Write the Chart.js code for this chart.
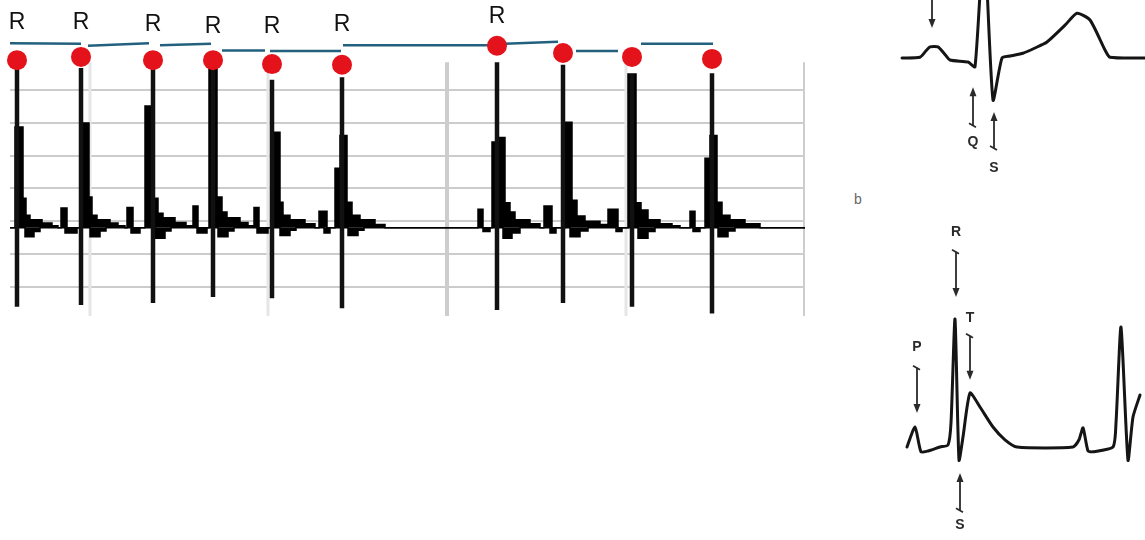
<!DOCTYPE html>
<html>
<head>
<meta charset="utf-8">
<script src="https://cdn.jsdelivr.net/npm/chart.js@4.4.0/dist/chart.umd.min.js"></script>
<style>
  html, body { margin: 0; padding: 0; background: #fff; }
  #wrap { position: relative; width: 1145px; height: 540px; overflow: hidden; }
  canvas { position: absolute; }
  #tag { position: absolute; left: 854px; top: 191px; font: 14px "Liberation Sans", Arial, sans-serif; color: #666; }
</style>
</head>
<body>
<div id="wrap">
  <canvas id="strip" width="830" height="330" style="left:0;top:0"></canvas>
  <canvas id="waveA" width="255" height="190" style="left:890px;top:0"></canvas>
  <div id="tag">b</div>
  <canvas id="waveB" width="255" height="330" style="left:890px;top:210px"></canvas>
</div>
<script>
// tira de ECG: tempo em amostras, amplitude em mV
const baseline = -0.1;
const rPeakTimes = [17, 81, 153, 213, 272, 342, 497, 563, 632, 712];
const rPeakTops = [2.34, 2.34, 2.34, 2.42, 2.16, 2.2, 2.43, 2.39, 2.25, 2.26];
const sTroughs = [-1.31, -1.28, -1.25, -1.16, -1.18, -1.33, -1.36, -1.25, -1.31, -1.41];
const rDotLevels = [2.46, 2.51, 2.46, 2.46, 2.40, 2.39, 2.68, 2.57, 2.51, 2.48];
const rLabelLevels = [3.04, 3.04, 3.01, 2.98, 2.97, 3.01, 3.13];

// intervalos RR (linhas azuis)
const rrStarts = [10, 88, 160, 222, 270, 343, 505, 576, 641];
const rrEnds = [81, 149, 211, 265, 341, 497, 558, 618, 713];
const rrStartLevels = [2.72, 2.68, 2.69, 2.61, 2.60, 2.69, 2.71, 2.60, 2.71];
const rrEndLevels = [2.71, 2.72, 2.71, 2.61, 2.60, 2.69, 2.74, 2.60, 2.71];

// envelope acima da linha de base [t, mV] (cada valor vale até o próximo t)
const upperTrace = [
  [10,-0.1],[15,1.44],[23,0.35],[26,0.09],[30,0.02],[42,-0.03],[52,-0.07],[58,-0.1],[61,0.2],[67,-0.1],
  [81,1.5],[89,0.37],[92,0.09],[97,0.02],[110,-0.03],[118,-0.07],[125,-0.1],[127,0.21],[133,-0.1],
  [145,1.76],[154,0.35],[158,0.12],[163,0.05],[175,-0.02],[186,-0.07],[193,0.23],[198,-0.1],
  [209,2.34],[217,0.37],[222,0.14],[227,0.05],[240,-0.02],[248,-0.07],[254,0.21],[259,-0.1],
  [273,1.36],[280,0.29],[283,0.09],[290,0.02],[305,-0.04],[315,-0.1],[319,0.15],[327,-0.1],
  [335,0.81],[340,1.31],[347,0.29],[352,0.09],[360,0.02],[375,-0.05],[385,-0.1],
  [478,0.18],[483,-0.1],
  [492,1.21],[497,1.28],[505,0.28],[510,0.14],[515,0.02],[530,-0.04],[540,-0.1],[544,0.23],[552,-0.1],
  [565,1.51],[572,0.32],[577,0.08],[585,0.0],[600,-0.05],[608,0.18],[618,-0.1],
  [628,2.25],[636,0.28],[641,0.17],[648,0.02],[660,-0.04],[672,-0.07],[680,-0.1],[690,0.15],[695,-0.1],
  [705,0.96],[710,1.31],[717,0.29],[722,0.09],[730,0.02],[745,-0.04],[760,-0.1],[805,-0.1]
];
// envelope abaixo da linha de base [t, mV]
const lowerTrace = [
  [10,-0.1],[25,-0.24],[34,-0.16],[40,-0.1],[65,-0.18],[77,-0.1],
  [90,-0.24],[100,-0.15],[106,-0.1],[131,-0.18],[140,-0.1],
  [155,-0.26],[165,-0.15],[171,-0.1],[197,-0.18],[207,-0.1],
  [218,-0.24],[228,-0.15],[234,-0.1],[257,-0.18],[268,-0.1],
  [280,-0.22],[290,-0.14],[296,-0.1],[324,-0.18],[330,-0.1],
  [348,-0.22],[358,-0.14],[364,-0.1],
  [483,-0.16],[490,-0.1],[503,-0.26],[512,-0.18],[520,-0.1],[550,-0.18],[556,-0.1],
  [570,-0.24],[580,-0.15],[588,-0.1],[616,-0.16],[622,-0.1],
  [638,-0.26],[648,-0.16],[655,-0.1],[693,-0.16],[700,-0.1],
  [718,-0.24],[728,-0.15],[735,-0.1],[805,-0.1]
];
// grade do papel
const gridLevels = [-1, -0.5, 0, 0.5, 1, 1.5, 2];
const gridTimes = [90, 268, 447, 626, 805];
const strongGridTimes = [447, 805];
const gridTop = 2.43;
const gridBottom = -1.45;

// diagrama a (topo direito)
const waveATimes = [12, 30, 36, 40, 48, 54, 60, 78, 85, 94, 103, 112, 120, 133, 145, 157, 175, 187, 200, 215, 220, 255];
const waveAValues = [0, 0.02, 0.18, 0.28, 0.28, 0.12, -0.05, -0.1, -0.22, 3.0, -1.05, 0, 0.05, 0.12, 0.25, 0.4, 0.82, 1.12, 0.95, 0.2, 0.02, 0];
const waveANoteTimes = [42, 83, 104];
const waveANoteTails = [1.6, -1.68, -2.25];
const waveANoteHeads = [0.75, -0.73, -1.35];
const waveANoteLabels = ["", "Q", "S"];
const waveANoteLevels = [0, -2.1, -2.75];

// diagrama b (baixo direito)
const waveBTimes = [17, 25, 31, 38, 50, 58, 61, 65, 69, 73, 80, 90, 103, 115, 127, 183, 189, 193, 198, 203, 223, 226, 231, 238, 243, 250];
const waveBValues = [0, 0.5, -0.12, -0.1, 0, 0.05, 0.6, 3.2, -0.33, 0.25, 1.35, 1.0, 0.5, 0.18, 0, 0, 0.18, 0.48, -0.1, -0.12, 0, 0.6, 3.0, -0.33, 0.75, 1.3];
const waveBNoteTimes = [66, 80, 27, 70];
const waveBNoteTails = [4.88, 2.78, 1.98, -1.58];
const waveBNoteHeads = [3.75, 1.68, 0.85, -0.65];
const waveBNoteLabels = ["R", "T", "P", "S"];
const waveBNoteLevels = [5.38, 3.23, 2.5, -1.95];

const FONT = '"Liberation Sans", Arial, sans-serif';
const toPts = arr => arr.map(([t, v]) => ({ x: t, y: v }));

// rótulos "R" acima dos picos
const rLabelsPlugin = {
  id: "rLabels",
  afterDatasetsDraw(chart) {
    const { ctx, scales: { x, y } } = chart;
    ctx.save();
    ctx.font = "23px " + FONT;
    ctx.fillStyle = "#111";
    ctx.textAlign = "center";
    ctx.textBaseline = "middle";
    rLabelLevels.forEach((v, i) => {
      ctx.fillText("R", x.getPixelForValue(rPeakTimes[i]), y.getPixelForValue(v));
    });
    ctx.restore();
  }
};

// setas e letras dos diagramas
const notesPlugin = {
  id: "notes",
  afterDatasetsDraw(chart, args, opts) {
    if (!opts.times) return;
    const { ctx, scales: { x, y } } = chart;
    ctx.save();
    ctx.strokeStyle = "#2a2a2a";
    ctx.fillStyle = "#2a2a2a";
    ctx.lineWidth = 1.8;
    opts.times.forEach((t, i) => {
      const px = x.getPixelForValue(t);
      const y1 = y.getPixelForValue(opts.tails[i]);
      const y2 = y.getPixelForValue(opts.heads[i]);
      const dir = Math.sign(y2 - y1);
      ctx.beginPath();
      ctx.moveTo(px, y1);
      ctx.lineTo(px, y2 - dir * 6);
      ctx.stroke();
      ctx.beginPath();
      ctx.moveTo(px, y2);
      ctx.lineTo(px - 3.5, y2 - dir * 9);
      ctx.lineTo(px + 3.5, y2 - dir * 9);
      ctx.closePath();
      ctx.fill();
      ctx.beginPath();
      ctx.moveTo(px - 4, y1 - 2);
      ctx.lineTo(px + 3, y1 + 2);
      ctx.stroke();
      if (opts.labels[i]) {
        ctx.font = "bold 14px " + FONT;
        ctx.textAlign = "center";
        ctx.textBaseline = "middle";
        ctx.fillText(opts.labels[i], px, y.getPixelForValue(opts.levels[i]));
      }
    });
    ctx.restore();
  }
};

// segmentos separados por null
function segments(times, lows, highs) {
  const pts = [];
  times.forEach((t, i) => {
    pts.push({ x: t, y: highs[i] }, { x: t, y: lows[i] }, { x: t, y: null });
  });
  return pts;
}
const spikePts = segments(rPeakTimes, sTroughs, rPeakTops);
const rrPts = [];
rrStarts.forEach((t, i) => {
  rrPts.push({ x: t, y: rrStartLevels[i] }, { x: rrEnds[i], y: rrEndLevels[i] }, { x: rrEnds[i], y: null });
});
const strongTimes = gridTimes.filter(t => strongGridTimes.includes(t));
const faintTimes = gridTimes.filter(t => !strongGridTimes.includes(t));
const strongGrid = segments(strongTimes, strongTimes.map(() => gridBottom), strongTimes.map(() => gridTop));
const faintGrid = segments(faintTimes, faintTimes.map(() => gridBottom), faintTimes.map(() => gridTop));

new Chart(document.getElementById("strip"), {
  type: "line",
  data: {
    datasets: [
      { data: faintGrid, borderColor: "#e6e6e6", borderWidth: 3, pointRadius: 0, spanGaps: false, order: 6 },
      { data: strongGrid, borderColor: "#cdcdcd", borderWidth: 4, pointRadius: 0, spanGaps: false, order: 5 },
      { data: toPts(upperTrace), stepped: "before", borderColor: "#000", borderWidth: 1.5,
        backgroundColor: "#000", fill: { value: baseline }, pointRadius: 0, order: 4 },
      { data: toPts(lowerTrace), stepped: "before", borderColor: "#000", borderWidth: 1.5,
        backgroundColor: "#000", fill: { value: baseline }, pointRadius: 0, order: 4 },
      { data: spikePts, borderColor: "#111", borderWidth: 4.5, pointRadius: 0, spanGaps: false, order: 3 },
      { data: rrPts, borderColor: "#23607e", borderWidth: 2.5, pointRadius: 0, spanGaps: false, clip: false, order: 2 },
      { type: "scatter", data: rPeakTimes.map((t, i) => ({ x: t, y: rDotLevels[i] })),
        pointRadius: 10, pointHoverRadius: 10, backgroundColor: "#e3121b", borderWidth: 0, clip: false, order: 1 }
    ]
  },
  options: {
    responsive: false,
    animation: false,
    events: [],
    layout: { autoPadding: false, padding: { left: 10, right: 25, top: 0, bottom: 14 } },
    plugins: { legend: { display: false }, tooltip: { enabled: false } },
    scales: {
      x: { type: "linear", min: 10, max: 805, display: false },
      y: {
        min: gridBottom, max: 3.38,
        afterBuildTicks: s => { s.ticks = gridLevels.map(v => ({ value: v })); },
        afterFit: s => { s.width = 0; },
        ticks: { display: false },
        border: { display: false },
        grid: { drawTicks: false, color: "#cccccc", lineWidth: 2 }
      }
    }
  },
  plugins: [rLabelsPlugin]
});

function drawWave(id, times, values, yMin, yMax, notes) {
  new Chart(document.getElementById(id), {
    type: "line",
    data: {
      datasets: [{
        data: times.map((t, i) => ({ x: t, y: values[i] })),
        borderColor: "#151515", borderWidth: 3, pointRadius: 0, tension: 0.2,
        borderJoinStyle: "round", borderCapStyle: "round"
      }]
    },
    options: {
      responsive: false,
      animation: false,
      events: [],
      layout: { autoPadding: false, padding: 0 },
      plugins: { legend: { display: false }, tooltip: { enabled: false }, notes },
      scales: {
        x: { type: "linear", min: 0, max: 255, display: false },
        y: { min: yMin, max: yMax, display: false }
      }
    },
    plugins: [notesPlugin]
  });
}

drawWave("waveA", waveATimes, waveAValues, -3.3, 1.45, {
  times: waveANoteTimes, tails: waveANoteTails, heads: waveANoteHeads,
  labels: waveANoteLabels, levels: waveANoteLevels
});
drawWave("waveB", waveBTimes, waveBValues, -2.325, 5.925, {
  times: waveBNoteTimes, tails: waveBNoteTails, heads: waveBNoteHeads,
  labels: waveBNoteLabels, levels: waveBNoteLevels
});
</script>
</body>
</html>
